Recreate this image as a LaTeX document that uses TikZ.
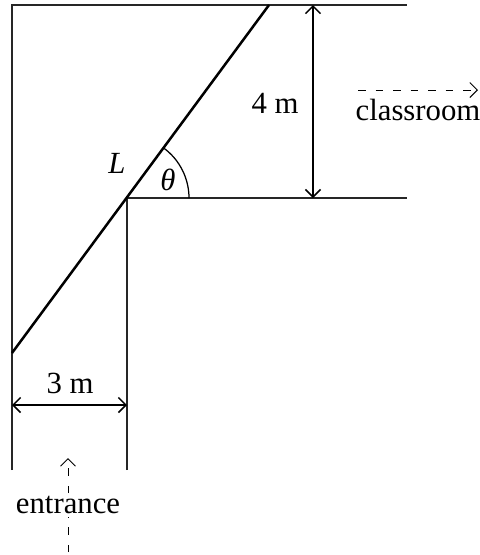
\documentclass[tikz,border=0pt]{standalone}
\usepackage{fontspec}
\setmainfont{Liberation Serif}
\usetikzlibrary{arrows.meta,positioning}
\tikzset{
  wall/.style={line width=0.5pt, draw=black!85},
  ladder/.style={line width=1pt, draw=black},
  dimarrow/.style={{Straight Barb[length=3pt,width=6pt]}-{Straight Barb[length=3pt,width=6pt]}, line width=0.6pt},
  dasharrow/.style={dashed, dash pattern=on 3pt off 4pt, line width=0.4pt},
  lbl/.style={font=\fontsize{12.3}{14}\selectfont, inner sep=1pt}
}
\begin{document}
\begin{tikzpicture}[x=0.4pt, y=-0.4pt]
  \useasboundingbox (0,0) rectangle (480,555);
  % corridor corners
  \coordinate (topleft) at (12,5);
  \coordinate (topright) at (407,5);
  \coordinate (botleft) at (12,470);
  \coordinate (corner) at (127,198);
  \coordinate (cornerright) at (407,198);
  \coordinate (cornerbot) at (127,470);
  \draw[wall] (botleft) -- (topleft) -- (topright);
  \draw[wall] (cornerbot) -- (corner) -- (cornerright);
  % ladder
  \coordinate (ladlow) at (12,353);
  \coordinate (ladtop) at (269,5);
  \draw[ladder] (ladlow) -- (ladtop);
  \draw[line width=0.5pt] ([xshift=24.8pt]corner) arc[start angle=0, end angle=53.6, radius=24.8pt];
  \node[lbl] (L) at (117,163) {\textit{L}};
  \node[lbl] (theta) at (168,180) {\textit{θ}};
  % dimensions
  \coordinate (htop) at (313,5);
  \coordinate (hbot) at (313,198);
  \draw[dimarrow] (htop) -- (hbot);
  \node[lbl] (four) at (275,103) {4 m};
  \coordinate (wleft) at (12,405);
  \coordinate (wright) at (127,405);
  \draw[dimarrow] (wleft) -- (wright);
  \node[lbl] (three) at (70,383) {3 m};
  % directions
  \coordinate (clstart) at (358,90);
  \coordinate (clend) at (478,90);
  \draw[dasharrow, -{Straight Barb[length=3pt,width=6pt]}] (clstart) -- (clend);
  \node[lbl] (classroom) at (418,110) {classroom};
  \node[lbl] (entrance) at (68,505) {entrance};
  \coordinate (entbot) at (68,552);
  \coordinate (enttop) at (68,458);
  \draw[dasharrow] (entbot) -- (entrance.south);
  \draw[dasharrow, -{Straight Barb[length=3pt,width=6pt]}] (entrance.north) -- (enttop);
\end{tikzpicture}
\end{document}
